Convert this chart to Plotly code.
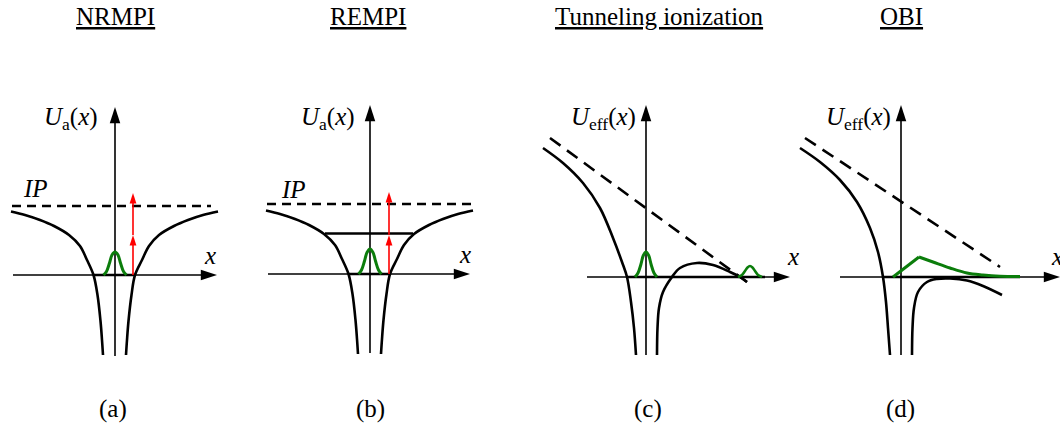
import plotly.graph_objects as go

FONT = "Liberation Serif"

# ---------------- text ----------------
titles = ["NRMPI", "REMPI", "Tunneling ionization", "OBI"]
captions = ["(a)", "(b)", "(c)", "(d)"]
ylabels = ["<i>U</i><sub>a</sub>(<i>x</i>)", "<i>U</i><sub>a</sub>(<i>x</i>)",
           "<i>U</i><sub>eff</sub>(<i>x</i>)", "<i>U</i><sub>eff</sub>(<i>x</i>)"]

# ---------------- data (panel units: x, U) ----------------
# atomic potential U_a(x), panels (a) and (b)
atom_left_x = [-10.4, -9.0, -7.5, -6.1, -4.6, -3.5, -2.8, -2.15, -1.75, -1.45, -1.3, -1.2]
atom_left_u = [6.35, 6.0, 5.5, 4.9, 4.0, 2.9, 1.5, 0.0, -2.0, -4.6, -6.5, -8.0]
atom_right_x = [1.1, 1.2, 1.35, 1.65, 2.0, 2.7, 3.4, 4.4, 5.9, 7.3, 8.8, 10.3]
atom_right_u = [-8.0, -6.5, -4.6, -2.0, 0.0, 1.5, 2.9, 4.0, 4.9, 5.5, 6.0, 6.35]
ip_level = [6.9, 7.0]                 # (a), (b)
ip_x = [[-10.3, 9.6], [-10.3, 10.4]]
ground_x = [-2.15, 2.0]
excited_level = 4.05
excited_x = [-4.5, 4.3]
# bound wavefunctions
wf_x = [-1.15, -0.85, -0.55, -0.3, 0.0, 0.3, 0.55, 0.85, 1.15]
wf_a_u = [0.0, 0.35, 1.2, 2.0, 2.3, 2.0, 1.2, 0.35, 0.0]
wf_b_u = [0.0, 0.4, 1.3, 2.15, 2.5, 2.15, 1.3, 0.4, 0.0]
# photon arrows (x, start, mid, top)
photon_a = [1.8, 0.0, 4.0, 8.2]
photon_b = [1.9, 0.0, 3.9, 8.2]

# effective potential, panel (c)
c_left_x = [-10.3, -8.3, -6.3, -4.6, -3.3, -2.4, -1.9, -1.5, -1.2, -1.0]
c_left_u = [12.9, 11.4, 9.4, 6.9, 3.9, 1.5, 0.0, -2.5, -5.1, -7.8]
c_right_x = [1.1, 1.15, 1.3, 1.7, 2.6, 3.4, 5.1, 6.7, 8.4, 9.4, 10.1]
c_right_u = [-7.8, -5.1, -3.1, -1.5, 0.0, 0.9, 1.4, 1.2, 0.5, 0.0, -0.5]
c_field_x = [-9.6, 10.1]
c_field_u = [13.9, -0.5]
c_ground_x = [-1.9, 11.9]
c_wf_x = [-1.1, -0.8, -0.5, -0.27, 0.0, 0.27, 0.5, 0.8, 1.1]
c_wf_u = [0.0, 0.4, 1.3, 2.15, 2.5, 2.15, 1.3, 0.4, 0.0]
c_out_x = [9.2, 9.6, 9.9, 10.15, 10.4, 10.65, 10.9, 11.2, 11.6]
c_out_u = [0.0, 0.2, 0.6, 0.95, 1.1, 0.95, 0.6, 0.2, 0.0]

# effective potential, panel (d)
d_left_x = [-10.1, -8.1, -6.1, -4.4, -3.1, -2.3, -1.8, -1.5, -1.3, -1.1]
d_left_u = [12.9, 11.5, 9.7, 7.5, 4.9, 2.5, 0.0, -2.5, -5.1, -7.8]
d_right_x = [1.1, 1.15, 1.3, 1.7, 2.6, 3.6, 4.9, 6.6, 8.2, 10.1]
d_right_u = [-7.8, -5.1, -3.1, -1.5, -0.5, -0.2, -0.15, -0.35, -0.9, -1.8]
d_field_x = [-9.6, 9.9]
d_field_u = [13.9, 1.0]
d_ground_x = [-1.8, 11.9]
d_rise_x = [-0.8, 1.8]
d_rise_u = [0.0, 2.0]
d_decay_x = [1.8, 3.2, 4.9, 6.6, 8.2, 9.9, 11.9]
d_decay_u = [2.0, 1.5, 0.9, 0.4, 0.2, 0.08, 0.05]

# axes extents (x-axis tail/tip, U-axis bottom/tip)
x_axis = [[-10.2, 10.2], [-10.2, 10.0], [-5.9, 14.4], [-6.1, 15.9]]
u_axis = [[-8.1, 16.8], [-7.9, 16.9], [-7.8, 17.2], [-7.8, 17.2]]

# ---------------- layout geometry (pixels) ----------------
W, H, S = 1060, 427, 10.0
panels = [
    dict(left=0, right=262, ox=115, oy=275),
    dict(left=262, right=520, ox=370, oy=274),
    dict(left=520, right=795, ox=646, oy=277),
    dict(left=795, right=1060, ox=901, oy=277),
]

fig = go.Figure()
layout = dict(width=W, height=H, autosize=False,
              margin=dict(l=0, r=0, t=0, b=0, pad=0),
              paper_bgcolor="white", plot_bgcolor="white",
              showlegend=False, font=dict(family=FONT, size=25, color="black"))
for i, p in enumerate(panels):
    n = "" if i == 0 else str(i + 1)
    layout["xaxis" + n] = dict(domain=[p["left"] / W, p["right"] / W],
                               range=[(p["left"] - p["ox"]) / S, (p["right"] - p["ox"]) / S],
                               visible=False, fixedrange=True, anchor="y" + n)
    layout["yaxis" + n] = dict(domain=[0, 1],
                               range=[(p["oy"] - H) / S, p["oy"] / S],
                               visible=False, fixedrange=True, anchor="x" + n)
fig.update_layout(**layout)

BLACK = "black"
GREEN = "#0b7d0b"
RED = "#ff0000"


def ax(i):
    n = "" if i == 0 else str(i + 1)
    return "x" + n, "y" + n


def line(i, x, y, color=BLACK, width=2.6, dash=None, shape="spline"):
    xr, yr = ax(i)
    fig.add_trace(go.Scatter(x=x, y=y, mode="lines", xaxis=xr, yaxis=yr,
                             line=dict(color=color, width=width, dash=dash, shape=shape,
                                       smoothing=1.0 if shape == "spline" else None),
                             hoverinfo="skip", cliponaxis=False))


def arrow(i, x0, y0, x1, y1, color=BLACK, width=1.6, head=17):
    xr, yr = ax(i)
    fig.add_trace(go.Scatter(x=[x0, x1], y=[y0, y1], mode="lines+markers", xaxis=xr, yaxis=yr,
                             line=dict(color=color, width=width),
                             marker=dict(symbol="arrow", angleref="previous", size=[0, head],
                                         color=color, opacity=1, line=dict(width=0, color=color)),
                             hoverinfo="skip", cliponaxis=False))


annotations = []


def label(i, x, y, text, xanchor="center"):
    xr, yr = ax(i)
    annotations.append(dict(x=x, y=y, xref=xr, yref=yr, text=text, showarrow=False,
                            xanchor=xanchor, yanchor="middle",
                            font=dict(family=FONT, size=25, color="black")))


# axes
for i in range(4):
    arrow(i, x_axis[i][0], 0, x_axis[i][1], 0)
    arrow(i, 0, u_axis[i][0], 0, u_axis[i][1])

# panels (a) and (b)
for i in (0, 1):
    line(i, ip_x[i], [ip_level[i], ip_level[i]], dash="9px,6px", shape="linear")
    line(i, atom_left_x, atom_left_u)
    line(i, atom_right_x, atom_right_u)
    line(i, ground_x, [0, 0], shape="linear")
    line(i, wf_x, wf_a_u if i == 0 else wf_b_u, color=GREEN, width=3)
line(1, excited_x, [excited_level, excited_level], shape="linear")
for i, ph in ((0, photon_a), (1, photon_b)):
    arrow(i, ph[0], ph[1], ph[0], ph[2], color=RED, width=1.6, head=11)
    arrow(i, ph[0], ph[2], ph[0], ph[3], color=RED, width=1.6, head=11)

# panel (c)
line(2, c_field_x, c_field_u, dash="13px,8px", shape="linear")
line(2, c_left_x, c_left_u)
line(2, c_right_x, c_right_u)
line(2, c_ground_x, [0, 0], shape="linear")
line(2, c_wf_x, c_wf_u, color=GREEN, width=3)
line(2, c_out_x, c_out_u, color=GREEN, width=2.6)

# panel (d)
line(3, d_field_x, d_field_u, dash="13px,8px", shape="linear")
line(3, d_left_x, d_left_u)
line(3, d_right_x, d_right_u)
line(3, d_ground_x, [0, 0], shape="linear")
line(3, d_rise_x, d_rise_u, color=GREEN, width=3, shape="linear")
line(3, d_decay_x, d_decay_u, color=GREEN, width=3)

# labels
title_x = [0.0, -0.2, 1.3, 0.0]
caption_x = [-0.2, 0.0, 0.2, -0.1]
ylabel_pos = [(-1.5, 15.7), (-1.3, 15.6), (-0.8, 15.9), (-0.8, 15.9)]
xlabel_pos = [(9.5, 2.0), (9.5, 2.0), (14.7, 2.1), (15.6, 2.1)]
for i, p in enumerate(panels):
    label(i, title_x[i], (p["oy"] - 16) / S, "<u>" + titles[i] + "</u>")
    label(i, caption_x[i], (p["oy"] - 409) / S, captions[i])
    label(i, ylabel_pos[i][0], ylabel_pos[i][1], ylabels[i], xanchor="right")
    label(i, xlabel_pos[i][0], xlabel_pos[i][1], "<i>x</i>")
label(0, -8.0, 8.65, "<i>IP</i>")
label(1, -7.7, 8.5, "<i>IP</i>")

fig.update_layout(annotations=annotations)
fig.write_html("out.html",
               config={"displayModeBar": False, "staticPlot": True},
               post_script="document.body.style.margin='0';document.body.style.overflow='hidden';")
